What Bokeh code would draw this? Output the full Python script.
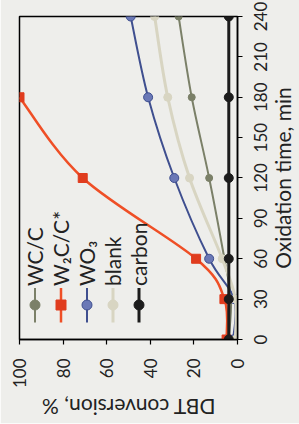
import math
from bokeh.plotting import figure
from bokeh.models import Range1d, FixedTicker, Legend, LegendItem
from bokeh.embed import file_html
from bokeh.resources import INLINE

# ---------------- data ----------------
time_min = [0, 30, 60, 120, 180, 240]
time_w2c = [0, 30, 60, 120, 180]
conv_wc = [4, 3, 6, 13, 21, 27]
conv_w2c = [5, 6, 19, 71, 100]
conv_wo3 = [2, 1.5, 13, 29, 41, 49]
conv_blank = [1, 1, 7, 22, 32, 38]
conv_carbon = [4, 4, 4, 4, 4, 4]
series_names = ["WC/C", "W\u2082C/C*", "WO\u2083", "blank", "carbon"]
time_ticks = [0, 30, 60, 90, 120, 150, 180, 210, 240]
conv_ticks = [0, 20, 40, 60, 80, 100]
x_title = "Oxidation time, min"
y_title = "DBT conversion, %"

# ---------------- style ----------------
FONT = "Lato"
BG = "#eeeeeb"
TXT = "#222222"
C_WC = "#7b8068"
C_W2C = "#ef4f26"
C_W2C_M = "#e03c1e"
C_WO3 = "#3f4f8f"
C_WO3_F = "#6a78b6"
C_BLANK = "#d8d5c2"
C_CARBON = "#1c1c1c"

# The reference is the chart turned 90 degrees counter-clockwise:
# the figure box is 299 x 424 on the page; its content (424 wide x 299
# tall, upright) is rotated into it.
W, H = 299, 424
p = figure(width=W, height=H,
           x_range=Range1d(0, 240), y_range=Range1d(0, 100),
           output_backend="svg", toolbar_location=None,
           min_border_left=79, min_border_right=17,
           min_border_top=19, min_border_bottom=62)
p.styles = {"transform-origin": "0 0",
            "transform": "translateY(%dpx) rotate(-90deg)" % H}
p.background_fill_color = BG
p.border_fill_color = BG
p.outline_line_color = "black"
p.outline_line_width = 1.5
p.xgrid.visible = False
p.ygrid.visible = False


def smooth(xs, ys):
    n = len(xs)
    out = dict(x0=[], y0=[], x1=[], y1=[], cx0=[], cy0=[], cx1=[], cy1=[])
    for i in range(n - 1):
        xp, yp = (xs[i - 1], ys[i - 1]) if i > 0 else (xs[i], ys[i])
        xn, yn = (xs[i + 2], ys[i + 2]) if i + 2 < n else (xs[i + 1], ys[i + 1])
        out["x0"].append(xs[i]); out["y0"].append(ys[i])
        out["x1"].append(xs[i + 1]); out["y1"].append(ys[i + 1])
        out["cx0"].append(xs[i] + (xs[i + 1] - xp) / 6.0)
        out["cy0"].append(ys[i] + (ys[i + 1] - yp) / 6.0)
        out["cx1"].append(xs[i + 1] - (xn - xs[i]) / 6.0)
        out["cy1"].append(ys[i + 1] - (yn - ys[i]) / 6.0)
    return out


def draw(times, conv, color, width, marker, size, fill, line=None):
    b = smooth(times, conv)
    r1 = p.bezier(x0=b["x0"], y0=b["y0"], x1=b["x1"], y1=b["y1"],
                  cx0=b["cx0"], cy0=b["cy0"], cx1=b["cx1"], cy1=b["cy1"],
                  line_color=color, line_width=width)
    r2 = p.scatter(times, conv, marker=marker, size=size, fill_color=fill,
                   line_color=line or fill, line_width=1)
    return [r1, r2]


r_wc = draw(time_min, conv_wc, C_WC, 2, "circle", 7, C_WC)
r_w2c = draw(time_w2c, conv_w2c, C_W2C, 2.5, "square", 9, C_W2C_M)
r_wo3 = draw(time_min, conv_wo3, C_WO3, 2, "circle", 9, C_WO3_F, C_WO3)
r_blank = draw(time_min, conv_blank, C_BLANK, 3, "circle", 8, C_BLANK)
r_carbon = [p.line(time_min, conv_carbon, line_color=C_CARBON, line_width=3),
            p.scatter(time_min, conv_carbon, marker="circle", size=9,
                      fill_color=C_CARBON, line_color=C_CARBON)]

legend = Legend(items=[LegendItem(label=n, renderers=r) for n, r in
                       zip(series_names, [r_wc, r_w2c, r_wo3, r_blank, r_carbon])],
                location=(17, 86), orientation="vertical",
                padding=0, margin=0, spacing=1,
                glyph_width=35, glyph_height=25, label_height=25,
                label_standoff=2,
                label_text_font=FONT, label_text_font_size="21px",
                label_text_color=TXT,
                border_line_color=None, background_fill_alpha=0)
p.add_layout(legend)

# ---------------- axes ----------------
xa = p.xaxis[0]
xa.ticker = FixedTicker(ticks=time_ticks)
xa.axis_label = x_title
xa.major_label_standoff = 11
xa.axis_label_standoff = 0

ya = p.yaxis[0]
ya.ticker = FixedTicker(ticks=conv_ticks)
ya.axis_label = y_title
ya.major_label_standoff = 14
ya.axis_label_standoff = 4

for ax in (xa, ya):
    ax.axis_line_color = "black"
    ax.axis_line_width = 1.5
    ax.major_tick_line_color = "black"
    ax.major_tick_line_width = 1.2
    ax.major_tick_in = 0
    ax.major_tick_out = 5
    ax.minor_tick_line_color = None
    ax.major_label_text_font = FONT
    ax.major_label_text_font_size = "17px"
    ax.major_label_text_color = TXT
    ax.axis_label_text_font = FONT
    ax.axis_label_text_font_size = "21px"
    ax.axis_label_text_font_style = "normal"
    ax.axis_label_text_color = TXT

open("out.html", "w").write(file_html(p, INLINE))
